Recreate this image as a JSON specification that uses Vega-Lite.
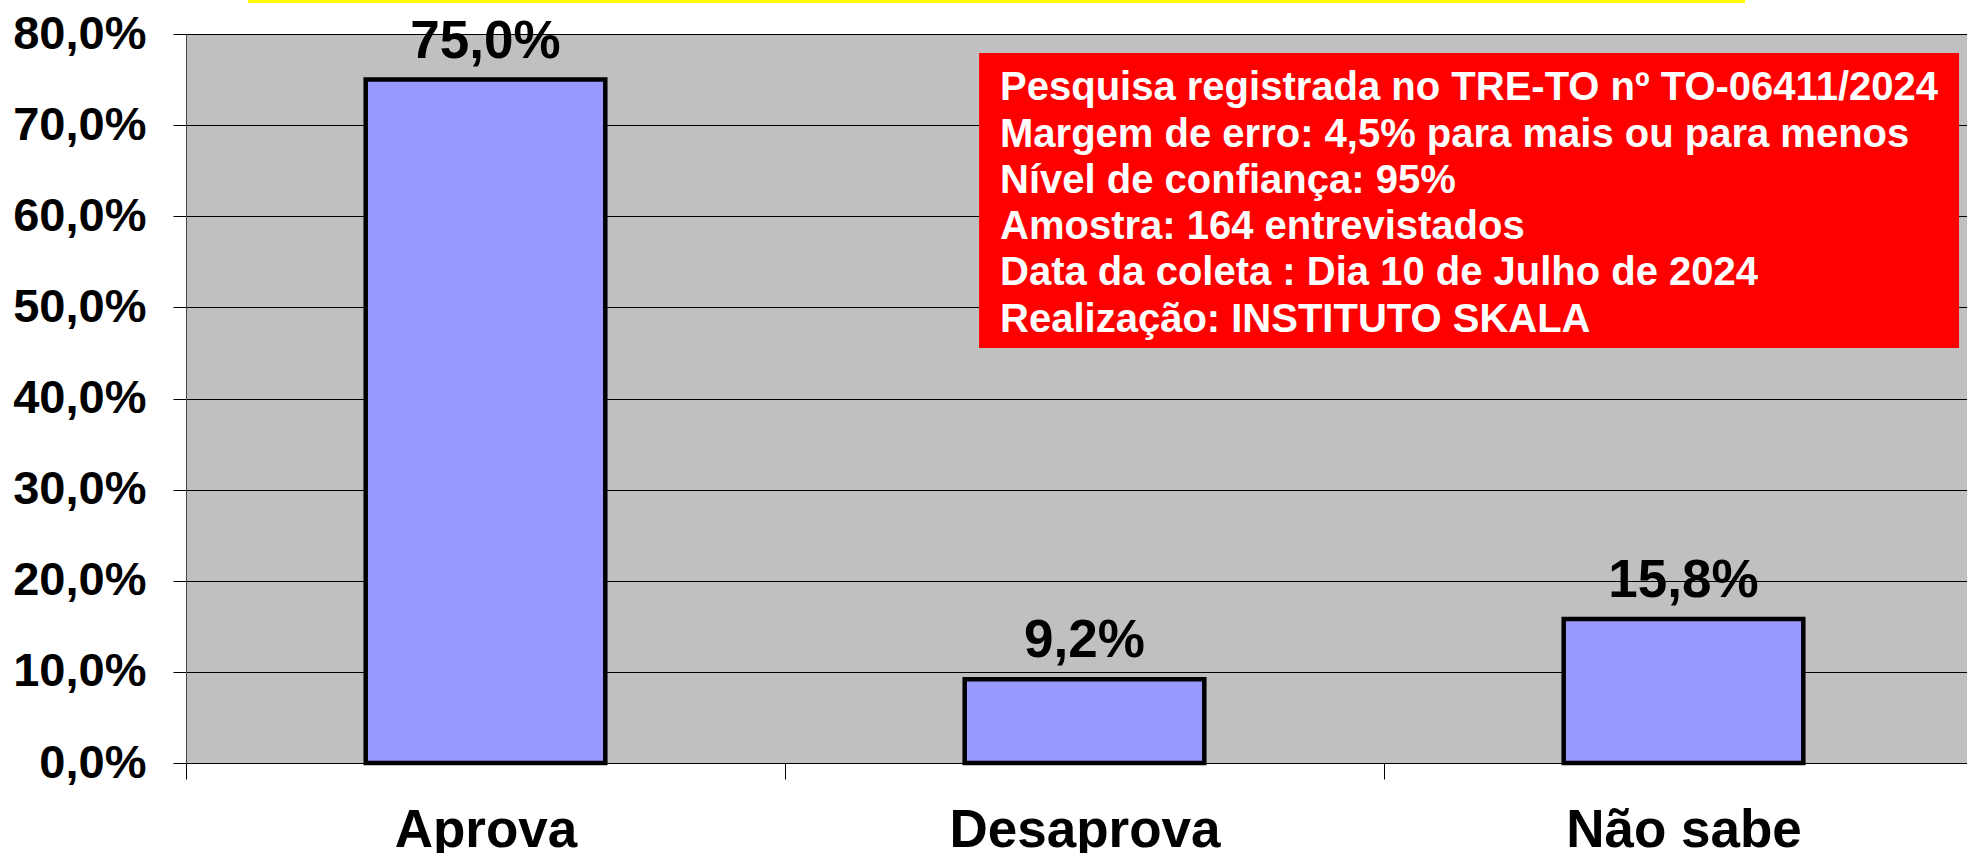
{
  "$schema": "https://vega.github.io/schema/vega-lite/v6.json",
  "autosize": {"type": "none"},
  "width": 1781,
  "height": 729,
  "padding": {"left": 186, "top": 34, "right": 0, "bottom": 90},
  "background": "white",
  "view": {"fill": "#C0C0C0", "stroke": null},
  "config": {
    "font": "Liberation Sans",
    "axis": {"labelFont": "Liberation Sans", "labelFontWeight": "bold", "labelColor": "black"}
  },
  "resolve": {"scale": {"x": "independent"}},
  "layer": [
    {
      "data": {"values": [
        {"cat": "Aprova", "v": 0.75, "label": "75,0%"},
        {"cat": "Desaprova", "v": 0.092, "label": "9,2%"},
        {"cat": "Não sabe", "v": 0.158, "label": "15,8%"}
      ]},
      "layer": [
        {
          "mark": {"type": "bar", "width": {"band": 0.4}, "fill": "#9999FF", "stroke": "black", "strokeWidth": 4.5},
          "encoding": {
            "x": {"field": "cat", "type": "nominal", "sort": null,
              "scale": {"range": [0, 1797], "paddingInner": 0, "paddingOuter": 0},
              "axis": {"title": null, "labelAngle": 0, "labelFontSize": 53, "tickBand": "extent", "labelLimit": 1000,
                "tickSize": 16, "tickColor": "black", "domainColor": "black",
                "labelBaseline": "alphabetic", "labelPadding": 67, "grid": false}},
            "y": {"field": "v", "type": "quantitative",
              "scale": {"domain": [0, 0.8], "nice": false},
              "axis": {"title": null, "values": [0, 0.1, 0.2, 0.3, 0.4, 0.5, 0.6, 0.7, 0.8],
                "labelExpr": "replace(format(datum.value, '.1%'), '.', ',')",
                "labelFontSize": 47, "tickSize": 13, "tickColor": "black", "labelPadding": 27,
                "grid": true, "gridColor": "black", "gridWidth": 1, "gridOpacity": 1,
                "domainColor": "#444"}}
          }
        },
        {
          "mark": {"type": "text", "dy": -22, "baseline": "alphabetic", "fontSize": 53, "fontWeight": "bold", "color": "black", "font": "Liberation Sans"},
          "encoding": {
            "x": {"field": "cat", "type": "nominal", "sort": null},
            "y": {"field": "v", "type": "quantitative"},
            "text": {"field": "label"}
          }
        }
      ]
    },
    {
      "layer": [
        {
          "data": {"values": [{"x0": 0.1035, "x1": 2.6027, "y0": 0.8373, "y1": 0.834}]},
          "mark": {"type": "rect", "color": "#FFFF00"},
          "encoding": {
            "x": {"field": "x0", "type": "quantitative", "scale": {"domain": [0, 2.97329], "nice": false, "zero": false}, "axis": null},
            "x2": {"field": "x1"},
            "y": {"field": "y0", "type": "quantitative"},
            "y2": {"field": "y1"}
          }
        },
        {
          "data": {"values": [{"x0": 1.324, "x1": 2.96, "y0": 0.7791, "y1": 0.4554}]},
          "mark": {"type": "rect", "color": "#FF0000"},
          "encoding": {
            "x": {"field": "x0", "type": "quantitative", "scale": {"domain": [0, 2.97329], "nice": false, "zero": false}, "axis": null},
            "x2": {"field": "x1"},
            "y": {"field": "y0", "type": "quantitative"},
            "y2": {"field": "y1"}
          }
        },
        {
          "data": {"values": [
            {"x": 1.359, "y": 0.7276, "t": "Pesquisa registrada no TRE-TO nº TO-06411/2024"},
            {"x": 1.359, "y": 0.6765, "t": "Margem de erro: 4,5% para mais ou para menos"},
            {"x": 1.359, "y": 0.6255, "t": "Nível de confiança: 95%"},
            {"x": 1.359, "y": 0.575, "t": "Amostra: 164 entrevistados"},
            {"x": 1.359, "y": 0.5245, "t": "Data da coleta : Dia 10 de Julho de 2024"},
            {"x": 1.359, "y": 0.473, "t": "Realização: INSTITUTO SKALA"}
          ]},
          "mark": {"type": "text", "align": "left", "baseline": "alphabetic", "fontSize": 40, "fontWeight": "bold", "color": "white", "font": "Liberation Sans"},
          "encoding": {
            "x": {"field": "x", "type": "quantitative", "scale": {"domain": [0, 2.97329], "nice": false, "zero": false}, "axis": null},
            "y": {"field": "y", "type": "quantitative"},
            "text": {"field": "t"}
          }
        }
      ]
    }
  ]
}
